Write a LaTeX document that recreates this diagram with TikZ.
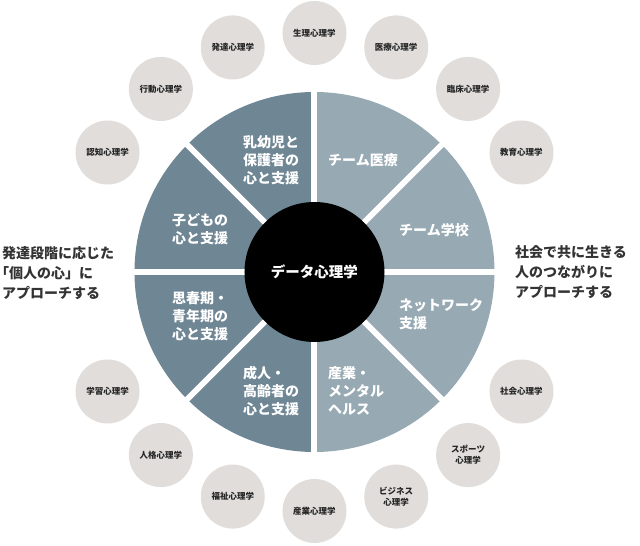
\documentclass[tikz,border=0pt]{standalone}
\usepackage{fontspec}
\setmainfont{Noto Sans CJK JP}
\definecolor{darkslate}{HTML}{6F8694}
\definecolor{lightslate}{HTML}{97A9B3}
\definecolor{fieldgray}{HTML}{E0DDDA}
\definecolor{inkgray}{HTML}{333333}

\begin{document}
\begin{tikzpicture}[x=1pt,y=1pt,
  field/.style={circle,fill=fieldgray,minimum size=64pt,inner sep=0pt,align=center,
    text=black!85,font=\fontsize{8.5}{11}\selectfont\bfseries},
  stage/.style={anchor=west,inner sep=0pt,align=left,text=white,
    font=\fontsize{14}{18}\selectfont\bfseries},
  aim/.style={anchor=west,inner sep=0pt,align=left,text=inkgray,
    font=\fontsize{14}{20}\selectfont\bfseries}]
\useasboundingbox (-314.5,-274) rectangle (325.5,272);

% wheel
\fill [darkslate] (0,0) -- (90:180) arc (90:270:180) -- cycle;
\fill [lightslate] (0,0) -- (-90:180) arc (-90:90:180) -- cycle;
\draw [white, line width=6pt] (0:182) -- (180:182);
\draw [white, line width=6pt] (45:182) -- (225:182);
\draw [white, line width=6pt] (90:182) -- (270:182);
\draw [white, line width=6pt] (135:182) -- (315:182);
\node [circle, fill=black, minimum size=140pt, inner sep=0pt, text=white,
  font=\fontsize{14.5}{18}\selectfont\bfseries] (core) at (0,0) {データ心理学};

% sectors
\node [stage] (infant) at (-71.5,112) {乳幼児と\\保護者の\\心と支援};
\node [stage] (child) at (-142.5,43) {子どもの\\心と支援};
\node [stage] (youth) at (-142.5,-44) {思春期・\\青年期の\\心と支援};
\node [stage] (adult) at (-71.5,-119) {成人・\\高齢者の\\心と支援};
\node [stage] (medteam) at (13.5,112) {チーム医療};
\node [stage] (schoolteam) at (84.5,42) {チーム学校};
\node [stage] (network) at (84.5,-42.5) {ネットワーク\\支援};
\node [stage] (industry) at (13.5,-119) {産業・\\メンタル\\ヘルス};

% fields
\node [field] (physio) at (90:239) {生理心理学};
\node [field] (develop) at (110:239) {発達心理学};
\node [field] (behave) at (130:239) {行動心理学};
\node [field] (cognit) at (150:239) {認知心理学};
\node [field] (medical) at (70:239) {医療心理学};
\node [field] (clinic) at (50:239) {臨床心理学};
\node [field] (educ) at (30:239) {教育心理学};
\node [field] (learn) at (210:239) {学習心理学};
\node [field] (person) at (230:239) {人格心理学};
\node [field] (welfare) at (250:239) {福祉心理学};
\node [field] (indus) at (270:239) {産業心理学};
\node [field] (business) at (290:239) {ビジネス\\心理学};
\node [field] (sports) at (310:239) {スポーツ\\心理学};
\node [field] (social) at (330:239) {社会心理学};

% aims
\node [aim] (selfaim) at (-312.5,-1) {発達段階に応じた\\{\addfontfeature{RawFeature=+halt}「}個人の心」に\\アプローチする};
\node [aim] (linkaim) at (200.5,0) {社会で共に生きる\\人のつながりに\\アプローチする};
\end{tikzpicture}
\end{document}
